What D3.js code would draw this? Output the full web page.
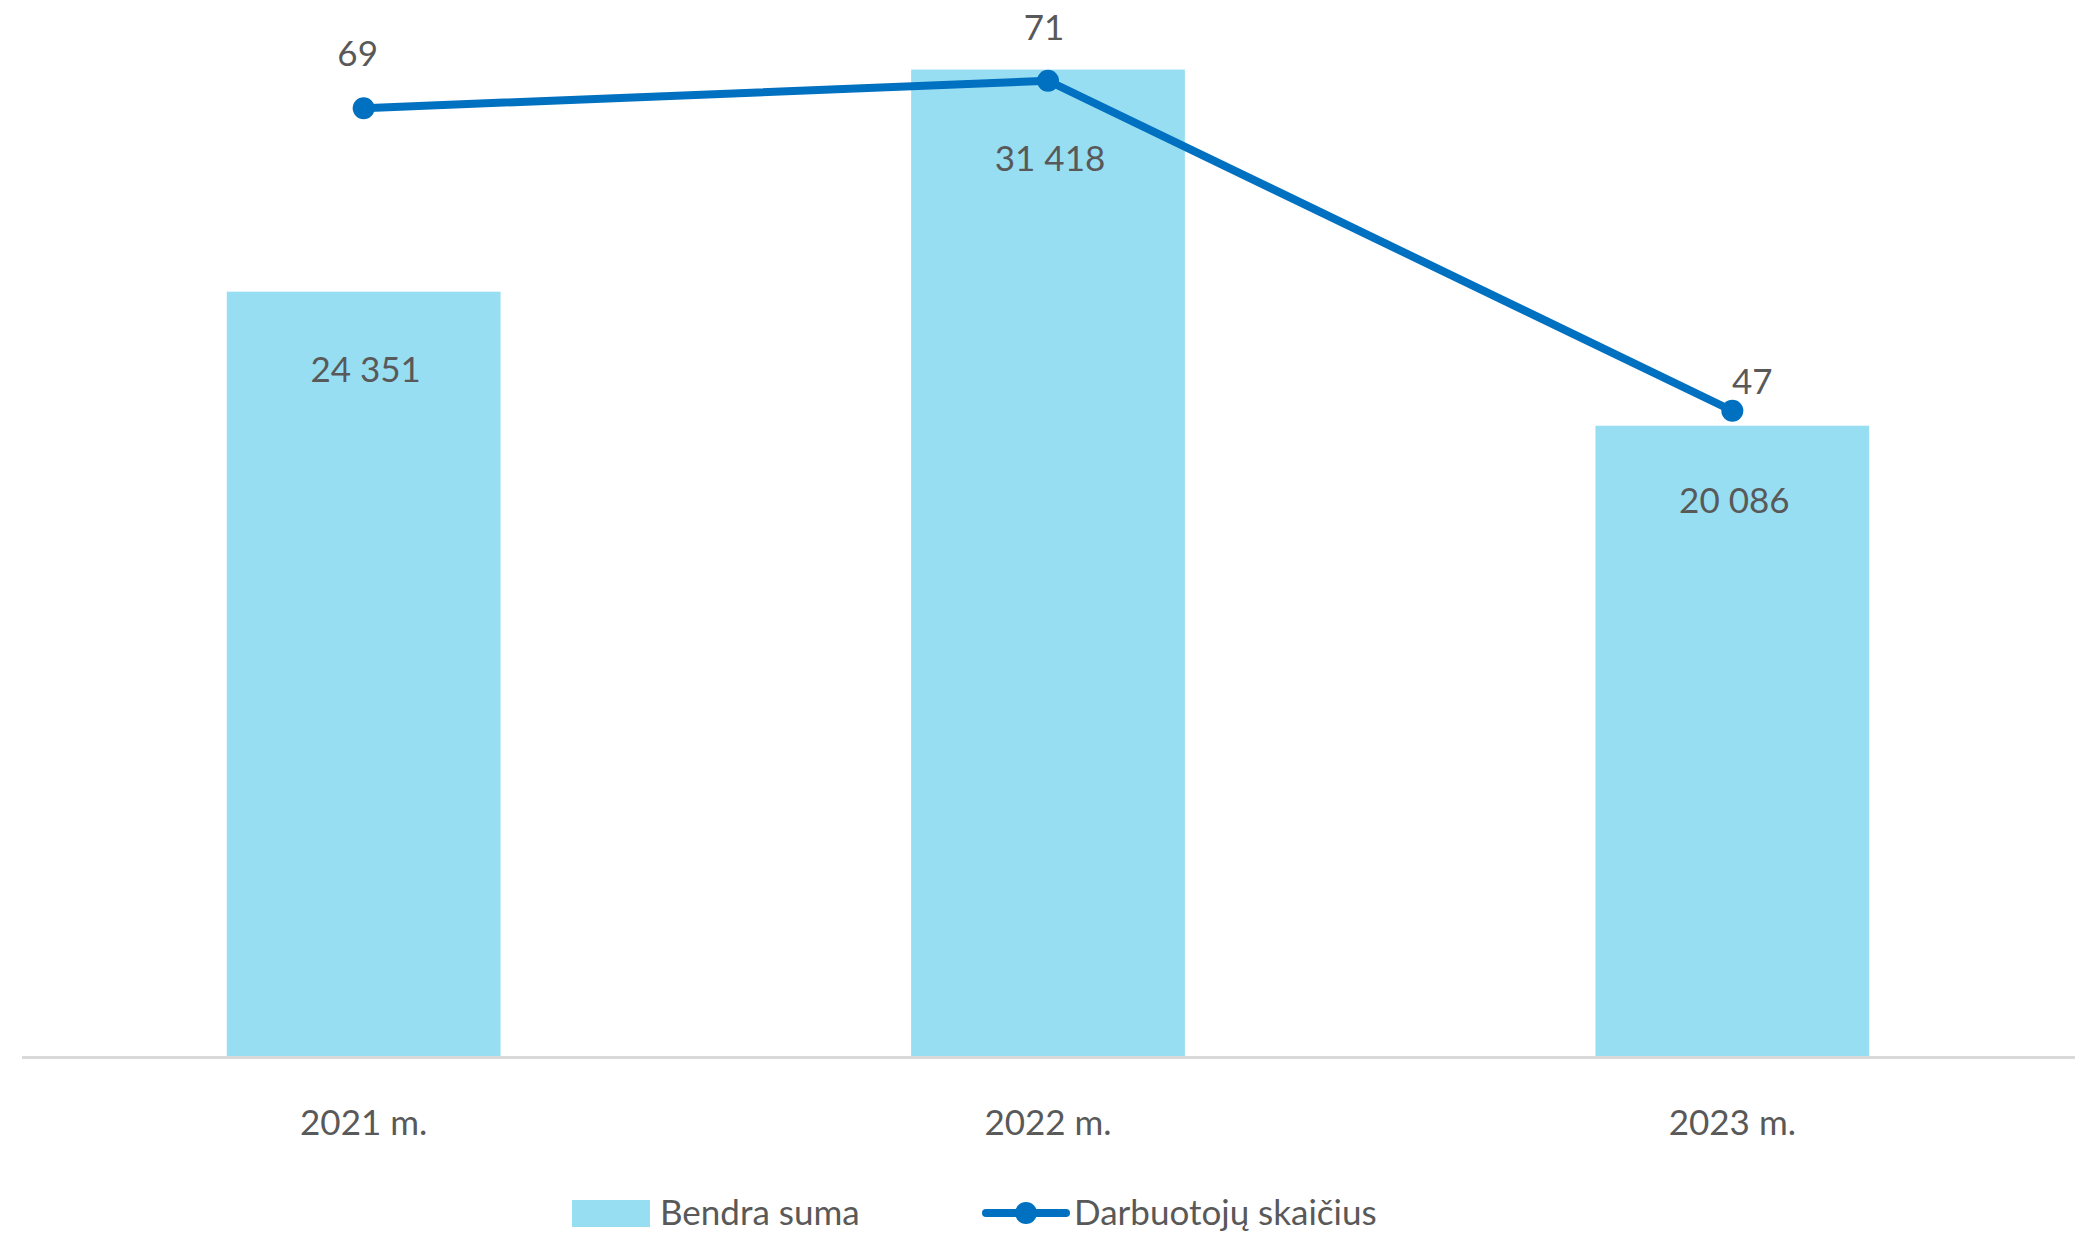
<!DOCTYPE html>
<html>
<head>
<meta charset="utf-8">
<script src="https://cdn.jsdelivr.net/npm/d3@7"></script>
<style>
  html, body { margin: 0; padding: 0; background: #ffffff; }
  svg { display: block; }
</style>
</head>
<body>
<svg id="chart" width="2081" height="1234"></svg>
<script>
const categories = ["2021 m.", "2022 m.", "2023 m."];
const bendraSuma = [24351, 31418, 20086];
const darbuotojai = [69, 71, 47];
const barLabels = ["24 351", "31 418", "20 086"];
const seriesNames = ["Bendra suma", "Darbuotojų skaičius"];

const FONT = "Lato, 'Open Sans', sans-serif";
const TEXT = "#595959";
const BAR = "#98DEF3";
const LINE = "#0070C0";

const svg = d3.select("#chart");

const x = d3.scaleBand().domain(categories).range([21.5, 2074.5])
  .paddingInner(0.6).paddingOuter(0.3);
const yBar = d3.scaleLinear().domain([0, 35000]).range([1057, -43]);
const yLine = d3.scaleLinear().domain([0, 80]).range([1057, -43]);

// bars
svg.append("g").selectAll("rect").data(bendraSuma).join("rect")
  .attr("x", (d, i) => x(categories[i]))
  .attr("y", d => yBar(d))
  .attr("width", x.bandwidth())
  .attr("height", d => yBar(0) - yBar(d))
  .attr("fill", BAR);

// bar labels
const barLabelOffsets = [90, 101, 87];
svg.append("g").selectAll("text").data(bendraSuma).join("text")
  .attr("x", (d, i) => x(categories[i]) + x.bandwidth() / 2 + 2)
  .attr("y", (d, i) => yBar(d) + barLabelOffsets[i])
  .attr("text-anchor", "middle")
  .attr("font-family", FONT).attr("font-size", 35).attr("fill", TEXT)
  .text((d, i) => barLabels[i]);

// axis
const axis = svg.append("g").attr("transform", "translate(0,1057)")
  .call(d3.axisBottom(x).tickSize(0).tickPadding(0));
axis.select(".domain").attr("stroke", "#d9d9d9").attr("stroke-width", 3);
axis.selectAll(".tick text")
  .attr("y", 78).attr("dy", 0)
  .attr("font-family", FONT).attr("font-size", 35).attr("fill", TEXT);

// line
const cx = (i) => x(categories[i]) + x.bandwidth() / 2;
const line = d3.line().x((d, i) => cx(i)).y(d => yLine(d));
svg.append("path").datum(darbuotojai)
  .attr("d", line).attr("fill", "none")
  .attr("stroke", LINE).attr("stroke-width", 8)
  .attr("stroke-linejoin", "round").attr("stroke-linecap", "round");
svg.append("g").selectAll("circle").data(darbuotojai).join("circle")
  .attr("cx", (d, i) => cx(i)).attr("cy", d => yLine(d))
  .attr("r", 11).attr("fill", LINE);

// line labels
const lineLabelDx = [-6, -4, 20];
const lineLabelDy = [-42, -41, -17];
svg.append("g").selectAll("text").data(darbuotojai).join("text")
  .attr("x", (d, i) => cx(i) + lineLabelDx[i])
  .attr("y", (d, i) => yLine(d) + lineLabelDy[i])
  .attr("text-anchor", "middle")
  .attr("font-family", FONT).attr("font-size", 35).attr("fill", TEXT)
  .text(d => d);

// legend
const lg = svg.append("g");
lg.append("rect").attr("x", 572).attr("y", 1200).attr("width", 78).attr("height", 27).attr("fill", BAR);
lg.append("text").attr("x", 660).attr("y", 1225)
  .attr("font-family", FONT).attr("font-size", 35).attr("fill", TEXT).text(seriesNames[0]);
lg.append("line").attr("x1", 986).attr("x2", 1066).attr("y1", 1213).attr("y2", 1213)
  .attr("stroke", LINE).attr("stroke-width", 8).attr("stroke-linecap", "round");
lg.append("circle").attr("cx", 1026).attr("cy", 1213).attr("r", 11).attr("fill", LINE);
lg.append("text").attr("x", 1074).attr("y", 1225)
  .attr("font-family", FONT).attr("font-size", 35).attr("fill", TEXT).text(seriesNames[1]);
</script>
</body>
</html>
